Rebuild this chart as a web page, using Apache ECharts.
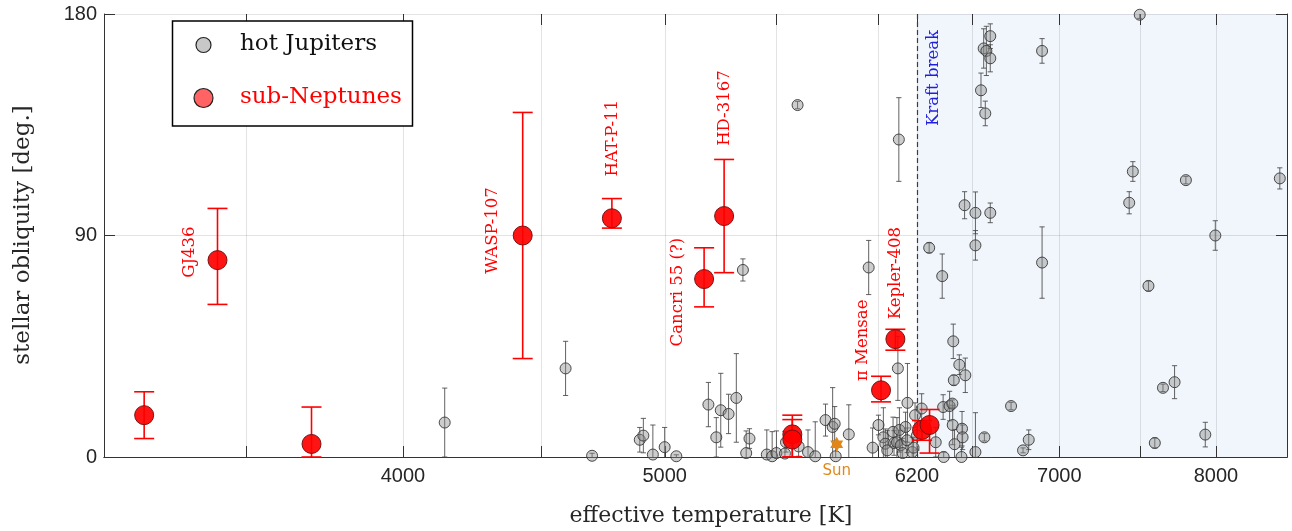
<!DOCTYPE html>
<html>
<head>
<meta charset="utf-8">
<script src="https://cdn.jsdelivr.net/npm/echarts@6/dist/echarts.min.js"></script>
<style>
  html, body { margin: 0; padding: 0; background: #fff; }
  #chart { width: 1292px; height: 531px; }
</style>
</head>
<body>
<div id="chart"></div>
<script>
// ---- hot Jupiters: effective temperature [K], obliquity [deg], 1-sigma error [deg]
const hjTeff = [
  4145, 4595, 4700, 4895, 4910, 4950, 5000, 5050, 5190, 5225,
  5245, 5280, 5315, 5345, 5360, 5375, 5455, 5480, 5500, 5540,
  5545, 5600, 5605, 5650, 5685, 5735, 5770, 5780, 5785, 5850,
  5950, 5970, 6000, 6025, 6035, 6045, 6075, 6080, 6095, 6100,
  6105, 6108, 6115, 6125, 6140, 6148, 6150, 6175, 6182, 6190,
  6200, 6225, 6265, 6300, 6335, 6340, 6343, 6375, 6390, 6395,
  6398, 6392, 6402, 6428, 6443, 6446, 6440, 6457, 6461, 6517,
  6517, 6517, 6548, 6563, 6567, 6572, 6578, 6600, 6600, 6600,
  6718, 6787, 6820, 6898, 6898, 7430, 7453, 7497, 7553, 7594,
  7647, 7723, 7798, 7928, 7996, 8448
];
const hjObl = [
  14, 36, 0.5, 7, 8.7, 1, 4, 0.3, 21.3, 8,
  19, 17.5, 24, 76, 1.6, 7.5, 1, 0.3, 1.6, 1.4,
  6, 143, 4.3, 2, 0.3, 15, 12.2, 13.5, 0.3, 9.2,
  77, 3.8, 13, 8, 5.4, 2.7, 10.2, 5.7, 6, 36,
  129, 11, 4.8, 1.6, 12.2, 6.8, 22, 2, 3.8, 17,
  8.8, 19.7, 85, 6, 73.5, 20.3, 0, 20.7, 21.7, 47,
  31.2, 13, 5.2, 37.5, 11.5, 8, 0, 102.3, 33.2, 99.2,
  86, 2, 149, 166, 8, 139.6, 165, 171, 162, 99.2,
  20.7, 2.7, 7, 165, 79, 103.3, 116, 179.7, 69.5, 5.7,
  28.1, 30.4, 112.5, 9.1, 90, 113.2
];
const hjErr = [
  14, 11, 1, 5, 7, 12, 8, 0.6, 9, 8,
  15, 8, 18, 4.5, 9, 4, 10, 10, 9, 9,
  4, 1.5, 4, 9, 14, 6.5, 16, 7, 4, 12,
  11, 8, 4, 12, 6, 8, 6, 5, 10, 13,
  17, 9, 6, 6, 6, 5, 16, 6, 4, 5,
  6, 6, 2, 6, 9, 5, 2, 6, 1.5, 7,
  2, 8, 6, 4, 7, 5, 4, 5.5, 7, 8.5,
  6, 16, 7, 8, 1.5, 5, 10, 5, 5.5, 4,
  1.5, 1, 4, 5, 14.5, 4.5, 4, 1.5, 2, 2,
  1.5, 6.7, 1.5, 5, 6, 4.3
];

// ---- sub-Neptunes
const snNames  = ['', 'GJ436', '', 'WASP-107', 'HAT-P-11', 'Cancri 55 (?)', 'HD-3167', '', '', 'π Mensae', 'Kepler-408', '', ''];
const snTeff   = [3208, 3415, 3700, 4430, 4780, 5171, 5260, 5575, 5575, 6013, 6087, 6227, 6267];
const snObl    = [17, 80, 5.3, 90, 97, 72.3, 97.9, 9.2, 7.1, 27.1, 47.9, 11, 13];
const snErrLo  = [9.5, 18, 5.3, 50, 4, 11.3, 23, 9.2, 7.1, 4.7, 4.5, 4.2, 11.4];
const snErrHi  = [9.5, 21, 15, 50, 8, 12.7, 23, 7.8, 8.1, 5.7, 4, 3.8, 6.3];

// ---- the Sun
const sunTeff = 5790;
const sunObl = 5.2;

// ---- axes
const T_MIN = 3100, T_MAX = 8500, KRAFT_T = 6200;
const OBL_MIN = 0, OBL_MAX = 180, OBL_STEP = 90;
const tempTicks  = [3500, 4000, 4500, 5000, 5500, 6000, 6200, 6500, 7000, 7500, 8000];
const tempLabels = [4000, 5000, 6200, 7000, 8000];

// ---- styling
const AXIS = '#333333';
const GRID = 'rgba(0,0,0,0.11)';
const SHADE = '#f0f6fc';
const RED = '#ff0000';
const SERIF = '"DejaVu Serif", "Liberation Serif", serif';
const SANS = '"Liberation Sans", Arial, sans-serif';
const TICK_LEN = 11;

// pixel offsets of the rotated planet names from their markers
const nameOffsets = {
  'GJ436': [-28, -8],
  'WASP-107': [-30, -5],
  'HAT-P-11': [1, -80],
  'HD-3167': [1, -108],
  'Cancri 55 (?)': [-26, 13],
  'π Mensae': [-18, -50],
  'Kepler-408': [0, -66]
};

function errorBars(capHalf, color, width) {
  return function (params, api) {
    const t = api.value(0), v = api.value(1);
    const lo = v - api.value(2), hi = v + api.value(3);
    const top = api.coord([t, Math.min(hi, OBL_MAX)]);
    const bot = api.coord([t, Math.max(lo, OBL_MIN)]);
    const st = () => ({ stroke: color, lineWidth: width, fill: null });
    const kids = [{ type: 'line', shape: { x1: top[0], y1: top[1], x2: bot[0], y2: bot[1] }, style: st() }];
    if (hi <= OBL_MAX) kids.push({ type: 'line', shape: { x1: top[0] - capHalf, y1: top[1], x2: top[0] + capHalf, y2: top[1] }, style: st() });
    if (lo >= OBL_MIN) kids.push({ type: 'line', shape: { x1: bot[0] - capHalf, y1: bot[1], x2: bot[0] + capHalf, y2: bot[1] }, style: st() });
    return { type: 'group', children: kids };
  };
}

const hjPoints = hjTeff.map((t, i) => [t, hjObl[i]]);
const hjBars = hjTeff.map((t, i) => [t, hjObl[i], hjErr[i], hjErr[i]]);
const snPoints = snTeff.map((t, i) => [t, snObl[i]]);
const snBars = snTeff.map((t, i) => [t, snObl[i], snErrLo[i], snErrHi[i]]);
const snLabelData = snTeff.map((t, i) => [t, snObl[i], i]).filter(d => snNames[d[2]]);
const tickData = tempTicks.map(t => [t, OBL_MIN]);

const xCommon = {
  type: 'log', logBase: 10, min: T_MIN, max: T_MAX,
  axisLine: { show: true, lineStyle: { color: AXIS, width: 1 } },
  axisTick: { show: false },
  splitLine: { show: false },
  minorTick: { show: false }, minorSplitLine: { show: false }
};
const yCommon = {
  type: 'value', min: OBL_MIN, max: OBL_MAX, interval: OBL_STEP,
  axisLine: { show: true, lineStyle: { color: AXIS, width: 1 } },
  axisTick: { show: true, inside: true, length: TICK_LEN, lineStyle: { color: AXIS, width: 1 } }
};

const option = {
  animation: false,
  backgroundColor: '#fff',
  grid: { left: 104, right: 5, top: 14, bottom: 74, containLabel: false },
  xAxis: [
    Object.assign({}, xCommon, {
      position: 'bottom',
      axisLabel: { customValues: tempLabels, formatter: v => String(Math.round(v)), margin: 9, color: '#262626', fontFamily: SANS, fontSize: 20 }
    }),
    Object.assign({}, xCommon, {
      position: 'top',
      axisLabel: { show: false }
    })
  ],
  yAxis: [
    Object.assign({}, yCommon, {
      position: 'left',
      axisLabel: { margin: 7, color: '#262626', fontFamily: SANS, fontSize: 20 },
      splitLine: { show: true, lineStyle: { color: GRID, width: 1 } }
    }),
    Object.assign({}, yCommon, {
      position: 'right',
      axisLabel: { show: false },
      splitLine: { show: false }
    })
  ],
  series: [
    { // region above the Kraft break
      type: 'custom', name: 'hot stars', z: -2, silent: true,
      data: [[KRAFT_T, OBL_MIN]], encode: { x: 0, y: 1 },
      renderItem: (params, api) => {
        const a = api.coord([KRAFT_T, OBL_MAX]);
        const b = api.coord([T_MAX, OBL_MIN]);
        return { type: 'rect', shape: { x: a[0], y: a[1], width: b[0] - a[0], height: b[1] - a[1] }, style: { fill: SHADE } };
      }
    },
    { // temperature grid lines with inward ticks on the bottom and top edges
      type: 'custom', name: 'temperature ticks', z: -1, silent: true,
      data: tickData, encode: { x: 0, y: 1 },
      renderItem: (params, api) => {
        const t = api.value(0);
        const bot = api.coord([t, OBL_MIN]);
        const top = api.coord([t, OBL_MAX]);
        const x = Math.round(bot[0]) + 0.5;
        return {
          type: 'group', children: [
            { type: 'line', shape: { x1: x, y1: top[1], x2: x, y2: bot[1] }, style: { stroke: GRID, lineWidth: 1 } },
            { type: 'line', shape: { x1: x, y1: bot[1], x2: x, y2: bot[1] - TICK_LEN }, style: { stroke: AXIS, lineWidth: 1 } },
            { type: 'line', shape: { x1: x, y1: top[1], x2: x, y2: top[1] + TICK_LEN }, style: { stroke: AXIS, lineWidth: 1 } }
          ]
        };
      }
    },
    { // Kraft break line and its label
      type: 'custom', name: 'Kraft break', z: 1, silent: true,
      data: [[KRAFT_T, OBL_MAX]], encode: { x: 0, y: 1 },
      renderItem: (params, api) => {
        const top = api.coord([KRAFT_T, OBL_MAX]);
        const bot = api.coord([KRAFT_T, OBL_MIN]);
        const x = Math.round(top[0]) + 0.5;
        return {
          type: 'group', children: [
            { type: 'line', shape: { x1: x, y1: top[1], x2: x, y2: bot[1] },
              style: { stroke: '#3d3d3d', lineWidth: 1.2, lineDash: [5, 3] } },
            { type: 'text', x: top[0] + 17, y: top[1] + 64, rotation: Math.PI / 2,
              style: { text: 'Kraft break', fill: '#1f1fe0', fontFamily: SERIF, fontSize: 16.5, align: 'center', verticalAlign: 'middle' } }
          ]
        };
      }
    },
    {
      type: 'custom', name: 'hot Jupiter errors', z: 2, silent: true,
      data: hjBars, encode: { x: 0, y: 1 },
      renderItem: errorBars(2.6, 'rgba(70,70,70,0.85)', 1)
    },
    {
      type: 'scatter', name: 'hot Jupiters', z: 3, silent: true,
      data: hjPoints, symbol: 'circle', symbolSize: 11,
      itemStyle: { color: 'rgba(135,135,135,0.42)', borderColor: 'rgba(55,55,55,0.9)', borderWidth: 1, opacity: 1 }
    },
    {
      type: 'custom', name: 'sub-Neptune errors', z: 4, silent: true,
      data: snBars, encode: { x: 0, y: 1 },
      renderItem: errorBars(10, RED, 1.6)
    },
    {
      type: 'scatter', name: 'sub-Neptunes', z: 5, silent: true,
      data: snPoints, symbol: 'circle', symbolSize: 19,
      itemStyle: { color: 'rgba(255,0,0,0.92)', borderColor: '#7a1212', borderWidth: 1, opacity: 1 }
    },
    {
      type: 'scatter', name: 'Sun', z: 6, silent: true,
      data: [[sunTeff, sunObl]],
      symbol: 'path://M0,-10L2.887,-5L8.66,-5L5.774,0L8.66,5L2.887,5L0,10L-2.887,5L-8.66,5L-5.774,0L-8.66,-5L-2.887,-5Z',
      symbolSize: [13, 15],
      itemStyle: { color: '#e1871a', opacity: 1 },
      label: { show: true, position: 'bottom', distance: 12, formatter: 'Sun', color: '#e1871a', fontFamily: '"DejaVu Sans", sans-serif', fontSize: 15 }
    },
    { // rotated planet names
      type: 'custom', name: 'names', z: 7, silent: true,
      data: snLabelData, encode: { x: 0, y: 1 },
      renderItem: (params, api) => {
        const p = api.coord([api.value(0), api.value(1)]);
        const name = snNames[api.value(2)];
        const off = nameOffsets[name] || [0, 0];
        return {
          type: 'text', x: p[0] + off[0], y: p[1] + off[1], rotation: Math.PI / 2,
          style: { text: name, fill: RED, fontFamily: SERIF, fontSize: 16.5, align: 'center', verticalAlign: 'middle' }
        };
      }
    }
  ],
  graphic: [
    // legend box
    { type: 'rect', z: 20, shape: { x: 172.5, y: 21, width: 240, height: 105 }, style: { fill: '#fff', stroke: '#000', lineWidth: 1.5 } },
    { type: 'circle', z: 21, shape: { cx: 203.5, cy: 45, r: 7.5 }, style: { fill: '#c8c8c8', stroke: '#222', lineWidth: 1.2 } },
    { type: 'text', z: 21, x: 240, y: 44, style: { text: 'hot Jupiters', fill: '#111', fontFamily: SERIF, fontSize: 23, verticalAlign: 'middle' } },
    { type: 'circle', z: 21, shape: { cx: 203.5, cy: 98, r: 9.5 }, style: { fill: '#ff6363', stroke: '#222', lineWidth: 1.2 } },
    { type: 'text', z: 21, x: 240, y: 97.5, style: { text: 'sub-Neptunes', fill: RED, fontFamily: SERIF, fontSize: 23, verticalAlign: 'middle' } },
    // axis titles
    { type: 'text', z: 21, x: 711, y: 516, style: { text: 'effective temperature [K]', fill: '#262626', fontFamily: SERIF, fontSize: 22, align: 'center', verticalAlign: 'middle' } },
    { type: 'text', z: 21, x: 23, y: 235, rotation: Math.PI / 2, style: { text: 'stellar obliquity [deg.]', fill: '#262626', fontFamily: SERIF, fontSize: 23, align: 'center', verticalAlign: 'middle' } }
  ]
};

const chart = echarts.init(document.getElementById('chart'), null, { renderer: 'canvas' });
chart.setOption(option);
</script>
</body>
</html>
